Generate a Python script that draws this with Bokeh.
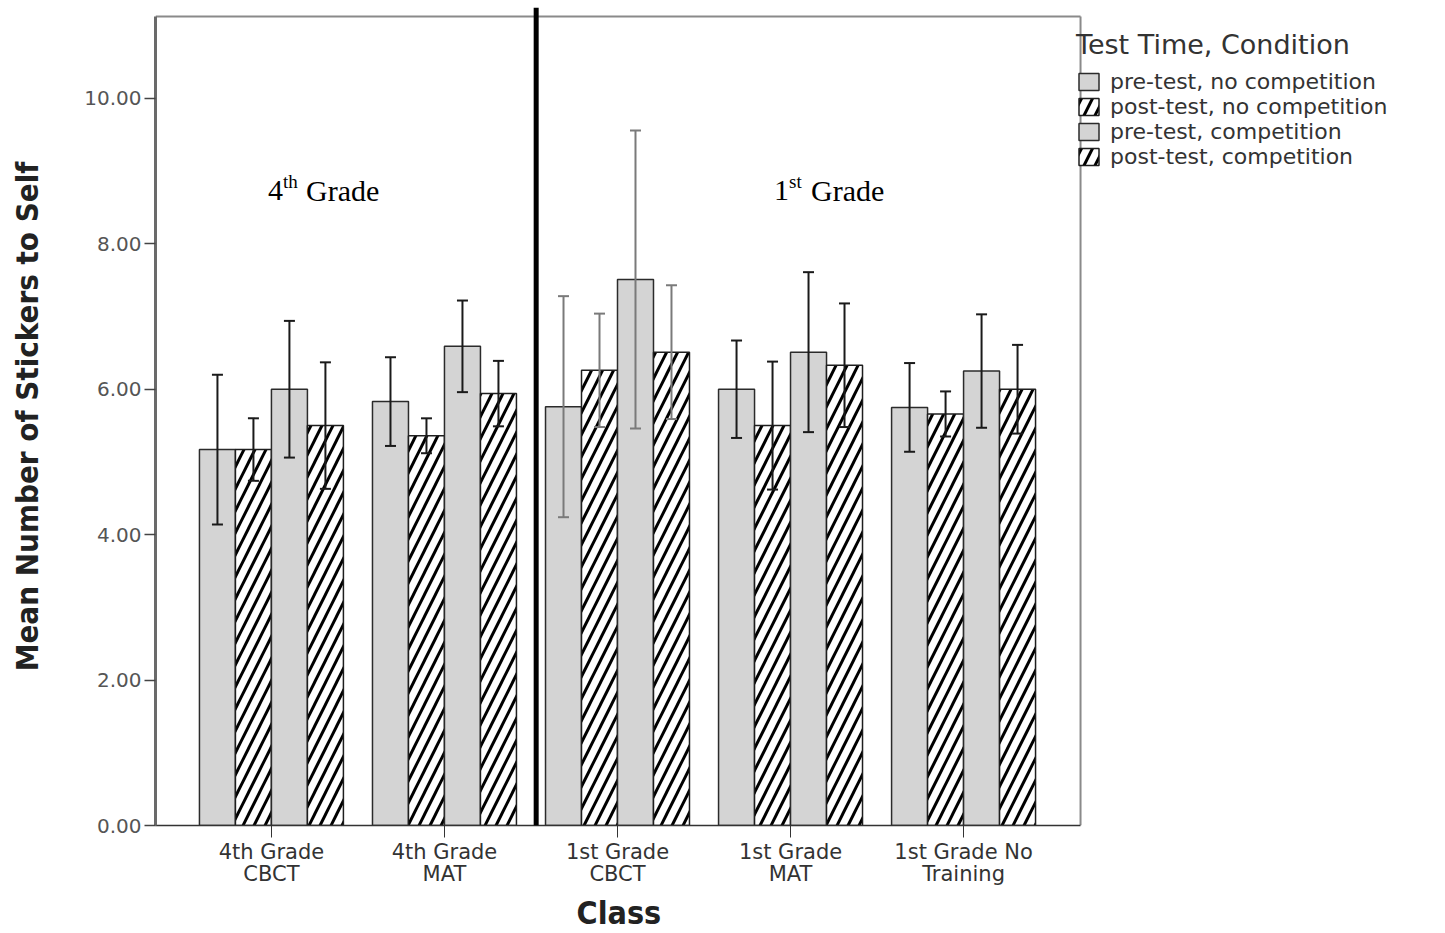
from bokeh.plotting import figure
from bokeh.models import (ColumnDataSource, Whisker, TeeHead, Span, Label, Legend, Title,
                          LegendItem, FixedTicker, NumeralTickFormatter, Range1d)
from bokeh.embed import file_html
from bokeh.resources import INLINE

# ---- data ----
classes = ["4th Grade\nCBCT", "4th Grade\nMAT", "1st Grade\nCBCT",
           "1st Grade\nMAT", "1st Grade No\nTraining"]
series_names = ["pre-test, no competition", "post-test, no competition",
                "pre-test, competition", "post-test, competition"]
pre_nc = [5.17, 5.83, 5.76, 6.00, 5.75]
pre_nc_err = [1.03, 0.61, 1.52, 0.67, 0.61]
post_nc = [5.17, 5.36, 6.26, 5.50, 5.66]
post_nc_err = [0.43, 0.24, 0.78, 0.88, 0.31]
pre_c = [6.00, 6.59, 7.51, 6.51, 6.25]
pre_c_err = [0.94, 0.63, 2.05, 1.10, 0.78]
post_c = [5.50, 5.94, 6.51, 6.33, 6.00]
post_c_err = [0.87, 0.45, 0.92, 0.85, 0.61]
y_ticks = [0, 2, 4, 6, 8, 10]

values = [pre_nc, post_nc, pre_c, post_c]
errors = [pre_nc_err, post_nc_err, pre_c_err, post_c_err]
hatched = [False, True, False, True]

# ---- layout constants ----
bar_w = 0.208
offsets = [-1.5, -0.5, 0.5, 1.5]
y_top = 11.25
box_top = 11.126
x_lo, x_hi = 0.330, 7.739      # frame extends under the legend area
border_x = 5.676               # visible right edge of the plot box
divider_x = 2.530

title_font = "'Liberation Sans Narrow', 'DejaVu Sans Condensed', 'Liberation Sans', sans-serif"

p = figure(width=1445, height=933, x_range=Range1d(x_lo, x_hi), y_range=Range1d(0, y_top),
           output_backend="svg", toolbar_location=None,
           min_border_left=155, min_border_right=8, min_border_top=7, min_border_bottom=107)
p.outline_line_color = None
p.grid.visible = False
p.background_fill_color = "white"

items = []
for k in range(4):
    xs = [i + 1 + offsets[k] * bar_w for i in range(len(classes))]
    src = ColumnDataSource(dict(x=xs, top=values[k]))
    if hatched[k]:
        r = p.vbar(x="x", top="top", width=bar_w, source=src, fill_color="white",
                   line_color="#1e1e1e", line_width=1.5, hatch_pattern="/",
                   hatch_color="black", hatch_scale=22, hatch_weight=3)
    else:
        r = p.vbar(x="x", top="top", width=bar_w, source=src, fill_color="#d4d4d4",
                   line_color="#2b2b2b", line_width=1.5)
    items.append(LegendItem(label=series_names[k], renderers=[r]))

# error bars
dark = dict(x=[], upper=[], lower=[])
grey = dict(x=[], upper=[], lower=[])
for k in range(4):
    for i in range(len(classes)):
        d = grey if i == 2 else dark
        d["x"].append(i + 1 + offsets[k] * bar_w)
        d["upper"].append(values[k][i] + errors[k][i])
        d["lower"].append(values[k][i] - errors[k][i])
for d, col in ((dark, "#1a1a1a"), (grey, "#7a7a7a")):
    w = Whisker(source=ColumnDataSource(d), base="x", upper="upper", lower="lower",
                line_color=col, line_width=2, level="overlay",
                upper_head=TeeHead(size=11, line_color=col, line_width=2),
                lower_head=TeeHead(size=11, line_color=col, line_width=2))
    p.add_layout(w)

# plot box: top and right border
p.segment(x0=[x_lo, border_x], y0=[box_top, 0], x1=[border_x, border_x], y1=[box_top, box_top],
          line_color="#8a8a8a", line_width=2)

# divider
p.add_layout(Span(location=divider_x, dimension="height", line_color="black", line_width=5))

# grade labels
serif = "Liberation Serif"
for (xd, num, sup, sup_off, grade_off) in ((0.980, "4", "th", 15, 38), (3.905, "1", "st", 15, 37)):
    p.add_layout(Label(x=xd, y=8.736, text=num, text_font=serif, text_font_size="30px",
                       text_baseline="alphabetic", text_color="black"))
    p.add_layout(Label(x=xd, y=8.736, x_offset=sup_off, y_offset=9, text=sup, text_font=serif,
                       text_font_size="19px", text_baseline="alphabetic", text_color="black"))
    p.add_layout(Label(x=xd, y=8.736, x_offset=grade_off, text="Grade", text_font=serif,
                       text_font_size="30px", text_baseline="alphabetic", text_color="black"))

# axes
p.xaxis.bounds = (x_lo, border_x)
p.xaxis.ticker = FixedTicker(ticks=[1, 2, 3, 4, 5])
p.xaxis.major_label_overrides = {i + 1: c for i, c in enumerate(classes)}
p.xaxis.minor_tick_line_color = None
p.xaxis.major_tick_in = 0
p.xaxis.major_tick_out = 12
p.xaxis.major_tick_line_color = "#333333"
p.xaxis.axis_line_color = "#333333"
p.xaxis.axis_line_width = 1.5
p.xaxis.major_label_text_font = "DejaVu Sans"
p.xaxis.major_label_text_font_size = "21px"
p.xaxis.major_label_text_line_height = 0.95
p.xaxis.major_label_text_color = "#333333"
p.xaxis.major_label_standoff = 2

# x-axis title, centred under the visible plot box
p.add_layout(Title(text="Class", align="left", offset=421, standoff=4,
                   text_font=title_font, text_font_size="32px", text_font_style="bold",
                   text_color="#222222", text_line_height=1.0), "below")

p.yaxis.ticker = FixedTicker(ticks=y_ticks)
p.yaxis.formatter = NumeralTickFormatter(format="0.00")
p.yaxis.bounds = (0, box_top)
p.yaxis.minor_tick_line_color = None
p.yaxis.major_tick_in = 0
p.yaxis.major_tick_out = 11
p.yaxis.major_tick_line_color = "#444444"
p.yaxis.major_tick_line_width = 1.5
p.yaxis.axis_line_color = "#6a6a6a"
p.yaxis.axis_line_width = 3
p.yaxis.major_label_text_font = "DejaVu Sans"
p.yaxis.major_label_text_font_size = "20px"
p.yaxis.major_label_text_color = "#555555"
p.yaxis.major_label_standoff = 3
p.yaxis.axis_label = "Mean Number of Stickers to Self"
p.yaxis.axis_label_text_font = title_font
p.yaxis.axis_label_text_font_size = "31px"
p.yaxis.axis_label_text_font_style = "bold"
p.yaxis.axis_label_text_color = "#222222"
p.yaxis.axis_label_standoff = 36

legend = Legend(items=items, location=(921, 656), title="Test Time, Condition",
                title_text_font="DejaVu Sans", title_text_font_size="27px",
                title_text_font_style="normal", title_text_color="#333333",
                title_standoff=9,
                label_text_font="DejaVu Sans", label_text_font_size="22px",
                label_text_color="#333333", label_height=20, glyph_height=21, glyph_width=25,
                label_standoff=9, spacing=0, padding=0, margin=0,
                border_line_color=None, background_fill_alpha=0)
p.add_layout(legend)

open("out.html", "w").write(file_html(p, INLINE))
